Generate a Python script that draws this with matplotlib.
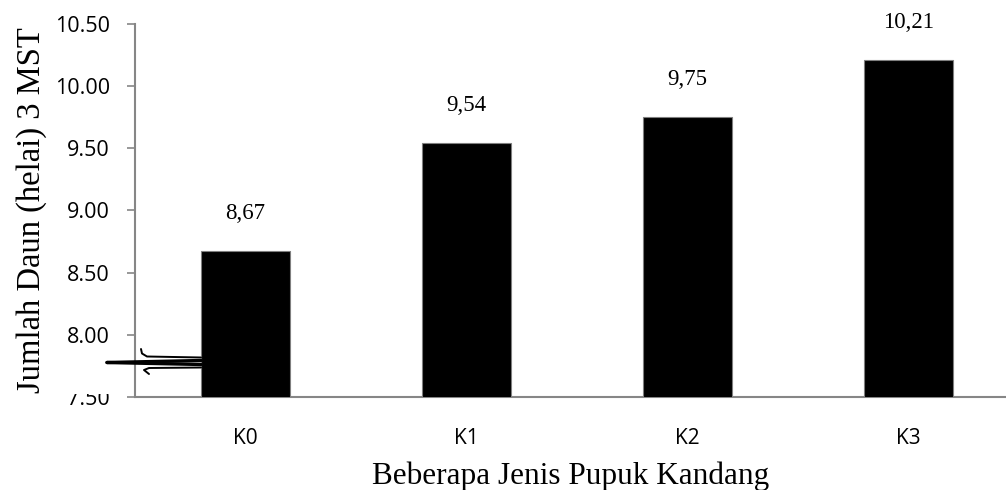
import numpy as np
import matplotlib
matplotlib.use('Agg')
import matplotlib.pyplot as plt
from matplotlib.lines import Line2D
from matplotlib.patches import Rectangle

categories = ["K0", "K1", "K2", "K3"]
values = [8.67, 9.54, 9.75, 10.21]
value_labels = ["8,67", "9,54", "9,75", "10,21"]
yticks = [7.50, 8.00, 8.50, 9.00, 9.50, 10.00, 10.50]

W, H = 1006, 490
fig = plt.figure(figsize=(W / 100, H / 100), dpi=100)
ax = fig.add_axes([135 / W, (H - 397) / H, (W - 135) / W, (397 - 23.7) / H])

x = np.arange(len(categories))
ax.bar(x, values, width=0.40, color='black', edgecolor='#7f7f7f', lw=0.8,
       zorder=3)
ax.set_xlim(-0.5, -0.5 + (W - 135) / 221.0)
ax.set_ylim(7.5, 10.5)

for xi, v, lab in zip(x, values, value_labels):
    ax.annotate(lab, (xi, v), xytext=(0, 27), textcoords='offset points',
                ha='center', va='center', fontsize=16.5,
                family='Liberation Serif')

ax.set_yticks(yticks)
ax.set_yticklabels([f"{t:.2f}" for t in yticks], fontsize=15.5,
                   family='Open Sans')
ax.set_xticks(x)
ax.set_xticklabels(categories, fontsize=15, family='Open Sans')
ax.tick_params(axis='y', length=6, width=1.2, color='#868686', pad=12)
ax.tick_params(axis='x', length=0, pad=22)

for s in ['top', 'right']:
    ax.spines[s].set_visible(False)
for s in ['left', 'bottom']:
    ax.spines[s].set_color('#868686')
    ax.spines[s].set_linewidth(1.5)

ax.set_ylabel("Jumlah Daun (helai) 3 MST", family='Liberation Serif',
              fontsize=23.5, labelpad=6)
ax.set_xlabel("Beberapa Jenis Pupuk Kandang", family='Liberation Serif',
              fontsize=22.5, labelpad=9)


# axis break mark drawn on top of the figure (pixel coords)
def px(pts):
    xs = [p[0] / W for p in pts]
    ys = [1 - p[1] / H for p in pts]
    return xs, ys


# white patch hiding the top of the lowest tick label, as in the source
fig.add_artist(Rectangle((60 / W, 1 - 393.5 / H), 68 / W, 20 / H,
                         transform=fig.transFigure, facecolor='white',
                         edgecolor='none', zorder=5))

strokes = [
    ([(107, 362.5), (201, 360.5)], 2.4),
    ([(107, 362.5), (201, 364.5)], 2.4),
    ([(141, 349), (142, 353.5), (147, 356.5), (201, 357.5)], 1.4),
    ([(149, 374), (144, 370), (149, 368), (201, 367.5)], 1.4),
]
for pts, lw in strokes:
    xs, ys = px(pts)
    fig.add_artist(Line2D(xs, ys, transform=fig.transFigure, color='black',
                          lw=lw, solid_capstyle='round', zorder=6))

fig.savefig("out.png", dpi=100)
